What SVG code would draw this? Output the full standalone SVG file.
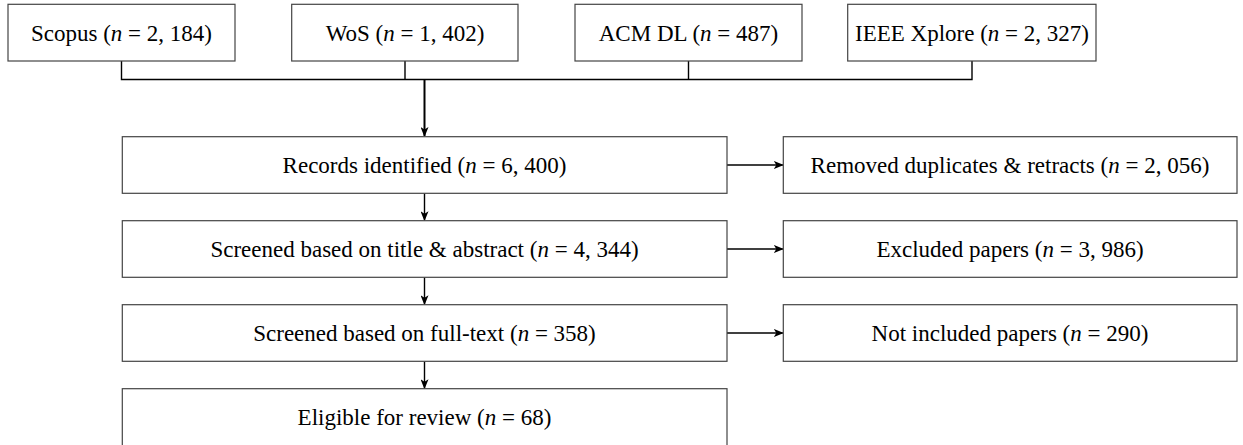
<svg xmlns="http://www.w3.org/2000/svg" width="1243" height="445" viewBox="0 0 1243 445">
<defs>
<style>
.box{fill:#fff;stroke:#444;stroke-width:1.2}
.t{font-family:"Liberation Serif","Times New Roman",serif;font-size:23px;fill:#000;text-anchor:middle}
.i{font-style:italic}
.c{fill:none;stroke:#000;stroke-width:1.4}
.m{fill:none;stroke:#000;stroke-width:2}
</style>
<marker id="ah" markerWidth="10" markerHeight="8" refX="9" refY="4" orient="auto" markerUnits="userSpaceOnUse">
<path d="M0,0 L10,4 L0,8 L2.5,4 Z" fill="#000"/>
</marker>
</defs>
<rect width="1243" height="445" fill="#fff"/>
<g id="connectors">
<path class="c" d="M121.5,61 V79.5 H972 V61 M405,61 V79.5 M688.5,61 V79.5"/>
<path class="m" d="M424.5,79.5 V136" marker-end="url(#ah)"/>
<path class="c" d="M424.5,193.3 V220.2" marker-end="url(#ah)"/>
<path class="c" d="M424.5,277.3 V304.2" marker-end="url(#ah)"/>
<path class="c" d="M424.5,361.3 V388.2" marker-end="url(#ah)"/>
<path class="c" d="M727,165 H782.8" marker-end="url(#ah)"/>
<path class="c" d="M727,249 H782.8" marker-end="url(#ah)"/>
<path class="c" d="M727,333 H782.8" marker-end="url(#ah)"/>
</g>
<g id="scopus"><rect class="box" x="8" y="4.3" width="227" height="56.7"/><text class="t" x="121.5" y="41">Scopus (<tspan class="i">n</tspan> = 2, 184)</text></g>
<g id="wos"><rect class="box" x="291.7" y="4.3" width="226.3" height="56.7"/><text class="t" x="405" y="41">WoS (<tspan class="i">n</tspan> = 1, 402)</text></g>
<g id="acm"><rect class="box" x="575" y="4.3" width="227" height="56.7"/><text class="t" x="688.5" y="41">ACM DL (<tspan class="i">n</tspan> = 487)</text></g>
<g id="ieee"><rect class="box" x="847.7" y="4.3" width="248.3" height="56.7"/><text class="t" x="972" y="41">IEEE Xplore (<tspan class="i">n</tspan> = 2, 327)</text></g>
<g id="records"><rect class="box" x="122.3" y="136.7" width="604.7" height="56.6"/><text class="t" x="424.5" y="173">Records identified (<tspan class="i">n</tspan> = 6, 400)</text></g>
<g id="removed"><rect class="box" x="783.3" y="136.7" width="453.7" height="56.6"/><text class="t" x="1010" y="173">Removed duplicates &amp; retracts (<tspan class="i">n</tspan> = 2, 056)</text></g>
<g id="screened-ta"><rect class="box" x="122.3" y="220.7" width="604.7" height="56.6"/><text class="t" x="424.5" y="257">Screened based on title &amp; abstract (<tspan class="i">n</tspan> = 4, 344)</text></g>
<g id="excluded"><rect class="box" x="783.3" y="220.7" width="453.7" height="56.6"/><text class="t" x="1010" y="257">Excluded papers (<tspan class="i">n</tspan> = 3, 986)</text></g>
<g id="screened-ft"><rect class="box" x="122.3" y="304.7" width="604.7" height="56.6"/><text class="t" x="424.5" y="341">Screened based on full-text (<tspan class="i">n</tspan> = 358)</text></g>
<g id="not-included"><rect class="box" x="783.3" y="304.7" width="453.7" height="56.6"/><text class="t" x="1010" y="341">Not included papers (<tspan class="i">n</tspan> = 290)</text></g>
<g id="eligible"><rect class="box" x="122.3" y="388.7" width="604.7" height="60"/><text class="t" x="424.5" y="425">Eligible for review (<tspan class="i">n</tspan> = 68)</text></g>
</svg>
